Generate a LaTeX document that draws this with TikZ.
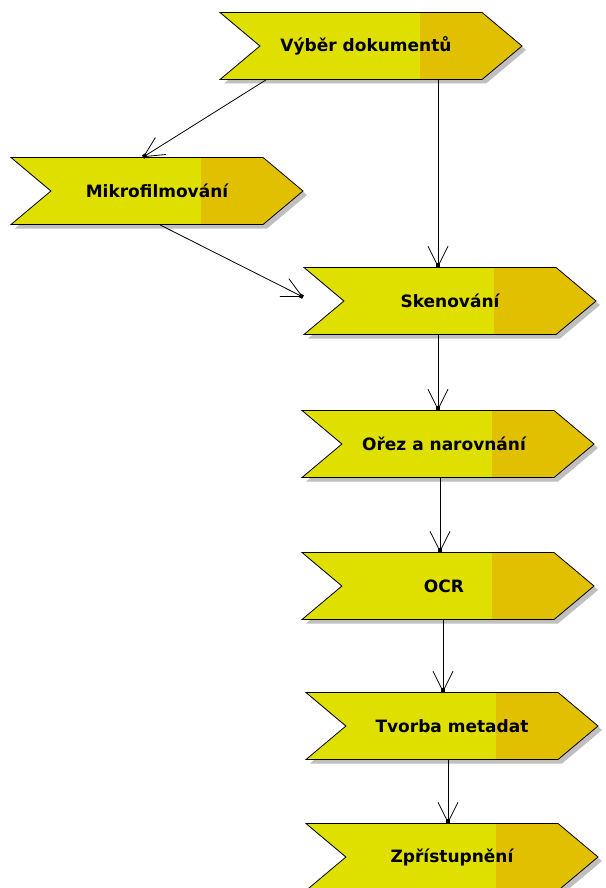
\documentclass[tikz,border=0pt]{standalone}
\usepackage{fontspec}
\setmainfont{DejaVu Sans}
\usetikzlibrary{shapes.symbols,shadows,arrows.meta}

\definecolor{procyellow}{HTML}{E0E000}
\definecolor{procorange}{HTML}{E0C000}

\tikzset{
  process/.style={signal, signal from=west, signal to=east, signal pointer angle=80,
    draw=black, line width=0.8pt, fill=procyellow,
    minimum width=292pt, minimum height=67pt, inner sep=0pt,
    font=\fontsize{17}{20}\selectfont\bfseries,
    drop shadow={shadow xshift=4pt, shadow yshift=-4pt, fill=black!25, opacity=1},
    path picture={\fill[procorange] ([xshift=-102pt]path picture bounding box.south east)
      rectangle (path picture bounding box.north east);}},
  flow/.style={line width=0.8pt,
    -{Straight Barb[length=20pt,width=20pt,sep=-4pt]Square[length=4pt,width=4pt]}}
}

\begin{document}
\begin{tikzpicture}[x=1pt,y=-1pt]
  \useasboundingbox (0,0) rectangle (605,888);

  % process steps
  \node[process,minimum width=302pt] (vyber) at (371,46) {Výběr dokumentů\kern10pt};
  \node[process] (mikro) at (157,191) {Mikrofilmování};
  \node[process] (sken) at (450,301) {Skenování};
  \node[process] (orez) at (448,444) {Ořez a narovnání\kern8pt};
  \node[process] (ocr) at (448,586) {OCR\kern8pt};
  \node[process] (meta) at (452,726) {Tvorba metadat};
  \node[process] (zpr) at (452,857) {Zpřístupnění};
  \coordinate (skenin) at (303,297);

  % flow
  \draw[flow] ([xshift=-105pt]vyber.south) -- ([xshift=-14pt]mikro.north);
  \draw[flow] ([xshift=67pt]vyber.south) -- ([xshift=-12pt]sken.north);
  \draw[flow] ([xshift=3pt]mikro.south) -- (skenin);
  \draw[flow] ([xshift=-12pt]sken.south) -- ([xshift=-10pt]orez.north);
  \draw[flow] ([xshift=-8pt]orez.south) -- ([xshift=-8pt]ocr.north);
  \draw[flow] ([xshift=-5pt]ocr.south) -- ([xshift=-9pt]meta.north);
  \draw[flow] ([xshift=-4pt]meta.south) -- ([xshift=-4pt]zpr.north);
\end{tikzpicture}
\end{document}
